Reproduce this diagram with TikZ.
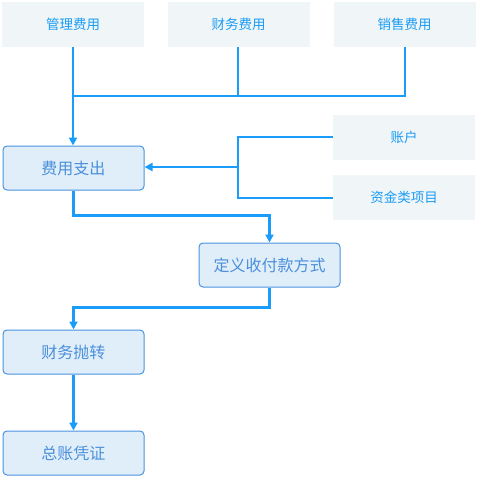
\documentclass[tikz,border=0pt]{standalone}
\usepackage{fontspec}
\setmainfont{Noto Sans CJK SC}
\usetikzlibrary{arrows.meta}
\definecolor{lineblue}{HTML}{1A9CFA}
\definecolor{topfill}{HTML}{F0F5F8}
\definecolor{toptext}{HTML}{1A9CF5}
\definecolor{boxfill}{HTML}{E0EEFA}
\definecolor{boxdraw}{HTML}{4A93E0}
\definecolor{boxtext}{HTML}{4A8FDA}
\begin{document}
\begin{tikzpicture}[x=1pt,y=-1pt,
  topbox/.style={fill=topfill,draw=none,minimum width=142pt,minimum height=45pt,inner sep=0pt,text=toptext,font=\fontsize{13.5}{16}\selectfont},
  flowbox/.style={fill=boxfill,draw=boxdraw,line width=1pt,rounded corners=4pt,minimum width=141pt,minimum height=44pt,inner sep=0pt,text=boxtext,font=\fontsize{16}{19}\selectfont},
  conn/.style={draw=lineblue,line width=2.2pt},
  arr/.style={conn,-{Triangle[length=8pt,width=8pt]}}]
\useasboundingbox (0,0) rectangle (478,480);
\node[topbox] (gl) at (73,24.5) {管理费用};
\node[topbox] (cw) at (238.5,24.5) {财务费用};
\node[topbox] (xs) at (404.5,24.5) {销售费用};
\node[topbox] (zh) at (404,137) {账户};
\node[topbox] (zj) at (404,197.5) {资金类项目};
\node[flowbox] (fy) at (73.5,168) {费用支出};
\node[flowbox] (dy) at (269.5,265) {定义收付款方式};
\node[flowbox] (pz) at (73.5,352) {财务抛转};
\node[flowbox] (zz) at (73.5,453) {总账凭证};
\coordinate (j1) at (73,96);
\coordinate (j2) at (238,96);
\coordinate (j3) at (405,96);
\coordinate (k1) at (238,137);
\coordinate (k2) at (238,198);
\coordinate (k3) at (238,167);
\draw[conn] (gl.south -| j1) -- (j1);
\draw[conn] (cw.south -| j2) -- (j2);
\draw[conn] (xs.south -| j3) -- (j3) -- (j1);
\draw[arr] (j1) -- (fy.north -| j1);
\draw[conn] (zh.west |- k1) -- (k1) -- (k2) -- (zj.west |- k2);
\draw[arr] (k3) -- (fy.east |- k3);
\draw[arr] (fy.south) -- ++(0,25) -| (dy.north);
\draw[arr] (dy.south) -- ++(0,20) -| (pz.north);
\draw[arr] (pz.south) -- (zz.north);
\end{tikzpicture}
\end{document}
